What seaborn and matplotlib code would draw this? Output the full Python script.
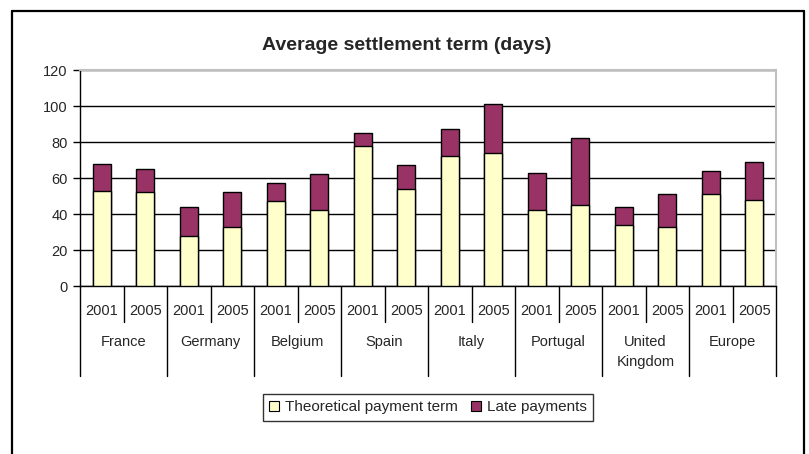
import matplotlib
matplotlib.use("Agg")
import matplotlib.pyplot as plt
import matplotlib.patches as mpatches
import matplotlib.transforms as mtransforms
import seaborn as sns
import pandas as pd

# Chart data
countries = ["France", "Germany", "Belgium", "Spain", "Italy",
             "Portugal", "United\nKingdom", "Europe"]
years = ["2001", "2005"]
theoretical = [53, 52, 28, 33, 47, 42, 78, 54, 72, 74, 42, 45, 34, 33, 51, 48]
late = [15, 13, 16, 19, 10, 20, 7, 13, 15, 27, 21, 37, 10, 18, 13, 21]

YELLOW = "#FFFFCC"
PURPLE = "#993366"

sns.set_style("white")
plt.rcParams["font.family"] = ["Liberation Sans", "DejaVu Sans"]

# Build a long table, one row per bar
rows = []
for i, c in enumerate(countries):
    for j, y in enumerate(years):
        k = i * 2 + j
        rows.append({"slot": f"{c}|{y}", "country": c, "year": y,
                     "theoretical": theoretical[k],
                     "total": theoretical[k] + late[k]})
df = pd.DataFrame(rows)

fig = plt.figure(figsize=(8.09, 4.54), dpi=100)
ax = fig.add_axes([80 / 809, 1 - 286 / 454, 696 / 809, 216 / 454])

# Stacked bars: total in purple, theoretical part drawn over it
sns.barplot(data=df, x="slot", y="total", color=PURPLE, width=0.42,
            edgecolor="black", linewidth=1.0, saturation=1, ax=ax, zorder=3)
sns.barplot(data=df, x="slot", y="theoretical", color=YELLOW, width=0.42,
            edgecolor="black", linewidth=1.0, saturation=1, ax=ax, zorder=4)

ax.set_xlim(-0.5, len(df) - 0.5)
ax.set_ylim(0, 120)
ax.set_yticks(range(0, 121, 20))
ax.set_xticks([])
ax.set_xlabel("")
ax.set_ylabel("")
ax.tick_params(axis="y", direction="out", length=5, width=1, color="black",
               labelsize=10.5, pad=4, left=True)
ax.yaxis.grid(True, color="#000000", linewidth=1.0, zorder=0)
ax.set_axisbelow(True)

for side in ["top", "right"]:
    ax.spines[side].set_color("#BFBFBF")
    ax.spines[side].set_linewidth(1.5)
for side in ["left", "bottom"]:
    ax.spines[side].set_color("black")
    ax.spines[side].set_linewidth(1.0)
    ax.spines[side].set_visible(True)

# Title is centred on the whole chart, not on the plot area
fig.text(407 / 809, 1 - 45 / 454, "Average settlement term (days)",
         fontsize=14, fontweight="bold", ha="center", va="center")

# Two-level category axis
trans = mtransforms.blended_transform_factory(ax.transData, ax.transAxes)
year_sep = -36 / 216
group_sep = -90 / 216
for k, row in df.iterrows():
    ax.text(k, -25 / 216, row["year"], transform=trans, ha="center",
            va="center", fontsize=10.5)
    if k % 2 == 1:
        ax.plot([k - 0.5, k - 0.5], [0, year_sep], transform=trans,
                color="black", lw=1.0, clip_on=False)
for i, c in enumerate(countries):
    left = i * 2 - 0.5
    ax.plot([left, left], [0, group_sep], transform=trans, color="black",
            lw=1.0, clip_on=False)
    ax.text(i * 2 + 0.5, -49 / 216, c, transform=trans, ha="center",
            va="top", fontsize=10.5, linespacing=1.55)
ax.plot([len(df) - 0.5] * 2, [0, group_sep], transform=trans, color="black",
        lw=1.0, clip_on=False)

# Legend
handles = [mpatches.Patch(facecolor=YELLOW, edgecolor="black", lw=0.8,
                          label="Theoretical payment term"),
           mpatches.Patch(facecolor=PURPLE, edgecolor="black", lw=0.8,
                          label="Late payments")]
leg = fig.legend(handles=handles, loc="center", ncol=2,
                 bbox_to_anchor=(428 / 809, 1 - 407.5 / 454), fontsize=11,
                 frameon=True, fancybox=False, handlelength=0.6,
                 handleheight=0.6, handletextpad=0.4, columnspacing=0.9,
                 borderpad=0.45, borderaxespad=0, edgecolor="black")
leg.get_frame().set_linewidth(1.0)

# Outer chart border (open at the bottom)
border = dict(color="black", lw=1.6, transform=fig.transFigure)
x0, x1, ytop = 12 / 809, 804 / 809, 1 - 11 / 454
fig.add_artist(plt.Line2D([x0, x1], [ytop, ytop], **border))
fig.add_artist(plt.Line2D([x0, x0], [ytop, 0], **border))
fig.add_artist(plt.Line2D([x1, x1], [ytop, 0], **border))

fig.savefig("out.png", dpi=100)
